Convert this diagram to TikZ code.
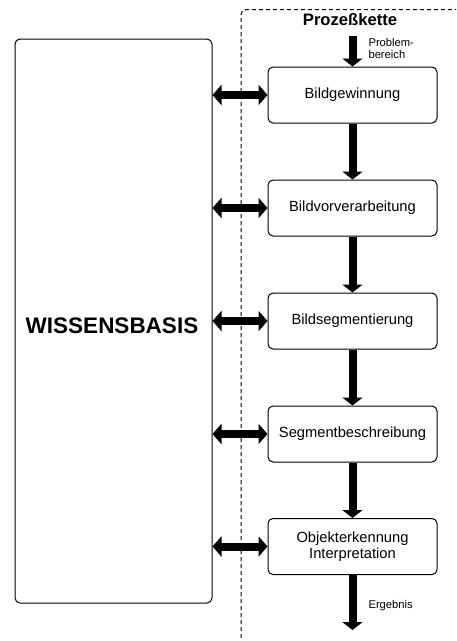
\documentclass[tikz,border=0pt]{standalone}
\usepackage{fontspec}
\setmainfont{Liberation Sans}
\usetikzlibrary{arrows.meta}

\tikzset{
	stepbox/.style={draw, line width=1pt, rounded corners=5pt, minimum width=169pt, minimum height=56pt, align=center, font=\fontsize{14.7}{16}\selectfont},
	flow/.style={line width=8pt, -{Triangle[width=20pt, length=8pt]}},
	twoway/.style={line width=8pt, {Triangle[width=20pt, length=9pt]}-{Triangle[width=20pt, length=9pt]}},
	note/.style={anchor=west, align=left, font=\fontsize{11.2}{12}\selectfont}
}

\begin{document}
\begin{tikzpicture}[x=1pt, y=-1pt]
			\useasboundingbox (0, 0) rectangle (456, 641);
			\begin{scope}
			\clip (0, 0) rectangle (456, 641);
			\draw[line width=1pt, dash pattern=on 4pt off 3pt, rounded corners=5pt] (241, 645) -- (241, 9.5) -- (470, 9.5);
			\end{scope}

			\draw (113.5, 321) 	node[draw, line width=1pt, rounded corners=5pt, minimum width=197pt, minimum height=564pt] 	(wissen) 	{};
			\draw (112, 326) 	node[font=\fontsize{22.5}{24}\selectfont\bfseries] 	(wissen_text) 	{WISSENSBASIS};
			\draw (350, 20) 	node[font=\fontsize{16.6}{18}\selectfont\bfseries] 	(kette) 	{Prozeßkette};

			\draw (352.5, 95) 	node[stepbox] 	(gewinnung) 		{Bildgewinnung};
			\draw (352.5, 208) 	node[stepbox] 	(vorverarbeitung) 	{Bildvorverarbeitung};
			\draw (352.5, 321) 	node[stepbox] 	(segmentierung) 	{Bildsegmentierung};
			\draw (352.5, 434) 	node[stepbox] 	(beschreibung) 		{Segmentbeschreibung};
			\draw (352.5, 546.5) 	node[stepbox] 	(erkennung) 		{Objekterkennung\\Interpretation};

			\coordinate (problem) at (352.5, 36);
			\coordinate (ergebnis) at (352.5, 630);
			\draw (365, 48) 	node[note] 	(problem_text) 		{Problem-\\bereich};
			\draw (365, 606) 	node[note] 	(ergebnis_text) 	{Ergebnis};

			\draw[flow] (problem) -- (gewinnung);
			\draw[flow] (gewinnung) -- (vorverarbeitung);
			\draw[flow] (vorverarbeitung) -- (segmentierung);
			\draw[flow] (segmentierung) -- (beschreibung);
			\draw[flow] (beschreibung) -- (erkennung);
			\draw[flow] (erkennung) -- (ergebnis);

			\draw[twoway] (wissen.east |- gewinnung) -- (gewinnung.west);
			\draw[twoway] (wissen.east |- vorverarbeitung) -- (vorverarbeitung.west);
			\draw[twoway] (wissen.east |- segmentierung) -- (segmentierung.west);
			\draw[twoway] (wissen.east |- beschreibung) -- (beschreibung.west);
			\draw[twoway] (wissen.east |- erkennung) -- (erkennung.west);
		\end{tikzpicture}
\end{document}
